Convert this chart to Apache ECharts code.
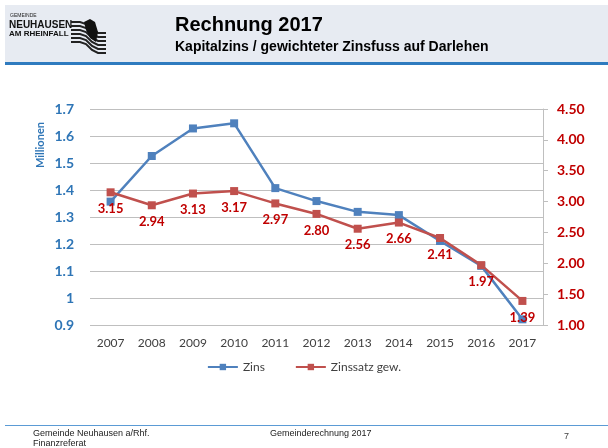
<!DOCTYPE html>
<html><head><meta charset="utf-8">
<script src="https://cdn.jsdelivr.net/npm/echarts@6/dist/echarts.min.js"></script>
<style>html,body{margin:0;padding:0;background:#fff}#c{width:608px;height:448px}</style>
</head><body><div id="c"></div>
<script>
const years = ['2007','2008','2009','2010','2011','2012','2013','2014','2015','2016','2017'];
const zins = [1.357, 1.526, 1.628, 1.647, 1.407, 1.359, 1.319, 1.307, 1.211, 1.119, 0.921];
const zinssatz = [3.15, 2.94, 3.13, 3.17, 2.97, 2.80, 2.56, 2.66, 2.41, 1.97, 1.39];

const chart = echarts.init(document.getElementById('c'));
const stripes = [];
for (let i = 0; i < 6; i++) {
  const y = 22 + i * 4;
  stripes.push({type:'polyline', shape:{points:[[71,y],[80,y],[86,y+2],[92,y+8],[98,y+11],[106,y+11]]}, style:{stroke:'#222', lineWidth:2, fill:null}});
}
chart.setOption({
  animation:false,
  graphic:[
    {type:'rect', shape:{x:5,y:5,width:603,height:58}, style:{fill:'#e7ebf2'}},
    {type:'rect', shape:{x:5,y:62,width:603,height:3}, style:{fill:'#2f7bbf'}},
    {type:'text', left:10, top:13, style:{text:'GEMEINDE', font:'5px "Liberation Sans"', fill:'#222'}},
    {type:'text', left:9, top:20, style:{text:'NEUHAUSEN', font:'bold 10px "Liberation Sans"', fill:'#111'}},
    {type:'text', left:9, top:30, style:{text:'AM RHEINFALL', font:'bold 8px "Liberation Sans"', fill:'#111'}}
  ].concat(stripes).concat([
    {type:'polygon', shape:{points:[[84,22],[90,19],[95,22],[98,32],[96,42],[90,38],[86,30]]}, style:{fill:'#111'}},
    {type:'text', left:175, top:15, style:{text:'Rechnung 2017', font:'bold 20px "Liberation Sans"', fill:'#000'}},
    {type:'text', left:175, top:40, style:{text:'Kapitalzins / gewichteter Zinsfuss auf Darlehen', font:'bold 14px "Liberation Sans"', fill:'#000'}},
    {type:'text', x:35, y:168, rotation:Math.PI/2, style:{text:'Millionen', font:'bold 11px Lato', fill:'#2e75b6'}},
    {type:'rect', shape:{x:5,y:425,width:603,height:1}, style:{fill:'#5b9bd5'}},
    {type:'text', left:33, top:429, style:{text:'Gemeinde Neuhausen a/Rhf.', font:'9px "Liberation Sans"', fill:'#222'}},
    {type:'text', left:33, top:439, style:{text:'Finanzreferat', font:'9px "Liberation Sans"', fill:'#222'}},
    {type:'text', left:270, top:429, style:{text:'Gemeinderechnung 2017', font:'9px "Liberation Sans"', fill:'#222'}},
    {type:'text', left:564, top:432, style:{text:'7', font:'9px "Liberation Sans"', fill:'#444'}}
  ]),
  grid:{left:90, right:65, top:109, bottom:123},
  legend:{top:356, left:'center', itemWidth:30, itemHeight:8, itemGap:30,
    textStyle:{fontFamily:'Lato', fontSize:12, color:'#404040'},
    data:['Zins','Zinssatz gew.']},
  xAxis:{type:'category', data:years, boundaryGap:true,
    axisLine:{show:false}, axisTick:{show:false},
    axisLabel:{fontFamily:'Lato', fontSize:12, color:'#404040', margin:12}},
  yAxis:[
    {type:'value', min:0.9, max:1.7, interval:0.1,
     axisLabel:{fontFamily:'Lato', fontWeight:'bold', fontSize:14, color:'#2e75b6', margin:16,
       formatter:v=>{const r=Math.round(v*10)/10; return r===1?'1':r.toFixed(1);}},
     splitLine:{lineStyle:{color:'#bfbfbf', width:1}}, axisLine:{show:false}, axisTick:{show:false}},
    {type:'value', min:1, max:4.5, interval:0.5, position:'right',
     axisLabel:{fontFamily:'Lato', fontWeight:'bold', fontSize:14, color:'#c00000', margin:14,
       formatter:v=>v.toFixed(2)},
     splitLine:{show:false}, axisLine:{show:true, lineStyle:{color:'#bfbfbf'}},
     axisTick:{show:true, length:5, inside:false, lineStyle:{color:'#bfbfbf'}}}
  ],
  series:[
    {name:'Zins', type:'line', data:zins, yAxisIndex:0, symbol:'rect', symbolSize:8,
     lineStyle:{color:'#4f81bd', width:2.5}, itemStyle:{color:'#4f81bd'}},
    {name:'Zinssatz gew.', type:'line', data:zinssatz, yAxisIndex:1, symbol:'rect', symbolSize:8,
     lineStyle:{color:'#c0504d', width:2.5}, itemStyle:{color:'#c0504d'},
     label:{show:true, position:'bottom', distance:6, fontFamily:'Lato', fontWeight:'bold', fontSize:13, color:'#c00000',
       formatter:p=>p.value.toFixed(2)}}
  ]
});
</script></body></html>
